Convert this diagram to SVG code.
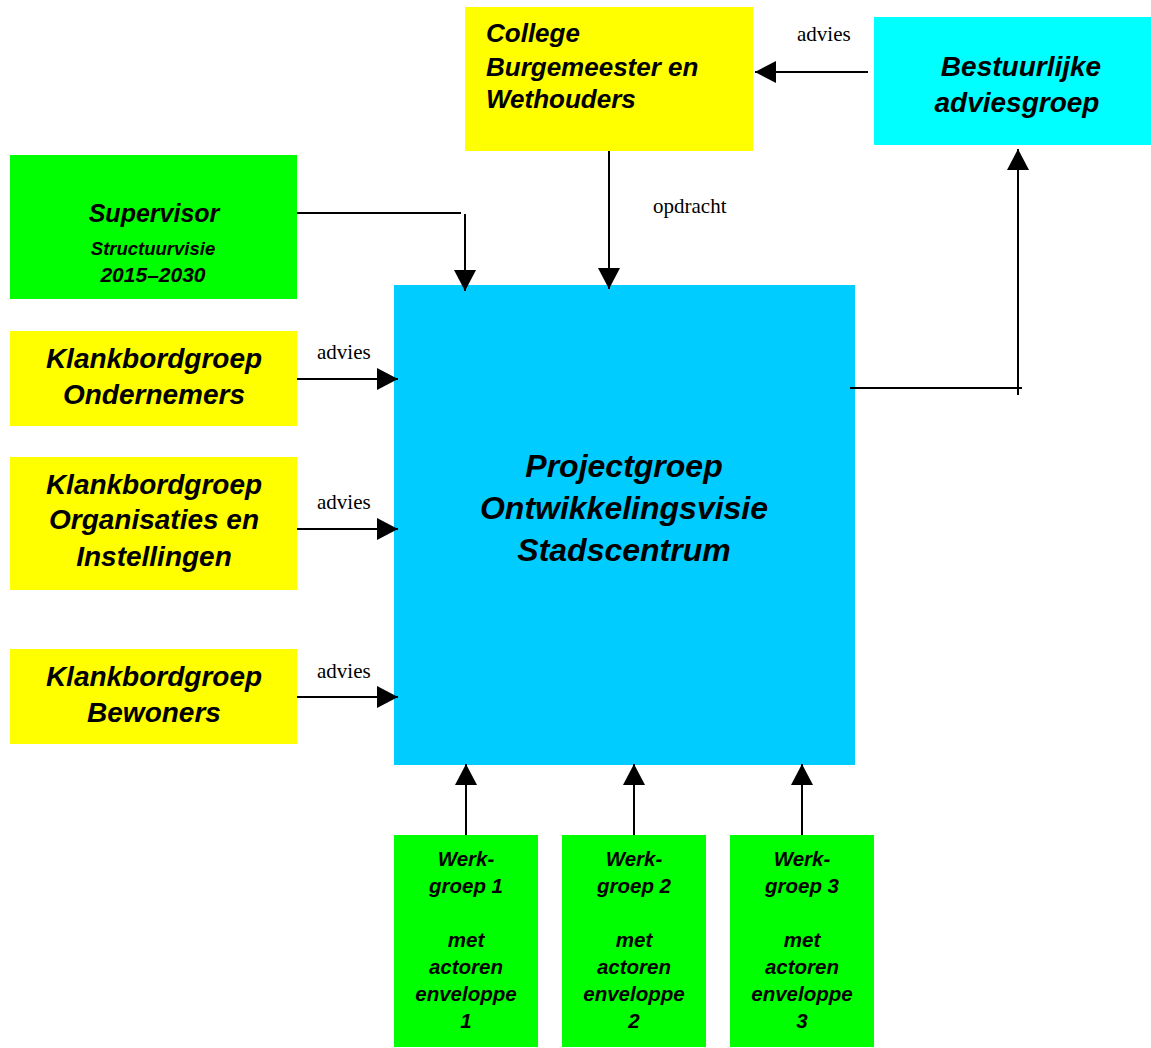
<svg xmlns="http://www.w3.org/2000/svg" width="1151" height="1048" viewBox="0 0 1151 1048">
<defs>
<marker id="ah" markerUnits="userSpaceOnUse" markerWidth="22" markerHeight="22" viewBox="0 0 22 22" refX="21" refY="11" orient="auto">
<path d="M0,0 L21,11 L0,22 Z" fill="#000"/>
</marker>
<style>
.t{font-family:"Liberation Sans",Arial,sans-serif;font-weight:bold;font-style:italic;fill:#000;text-anchor:middle}
.l{font-family:"Liberation Serif","Times New Roman",serif;font-size:21px;fill:#000}
.c{stroke:#000;stroke-width:2;fill:none}
.y{fill:#ffff00}.g{fill:#00ff00}.b{fill:#00ccff}.a{fill:#00ffff}
</style>
</defs>
<rect width="1151" height="1048" fill="#fff"/>
<g id="college">
<rect class="y" x="465" y="7" width="288" height="144"/>
<text class="t" style="text-anchor:start" font-size="26"><tspan x="486" y="42">College</tspan><tspan x="486" y="76">Burgemeester en</tspan><tspan x="486" y="108">Wethouders</tspan></text>
</g>
<g id="bestuurlijke">
<rect class="a" x="874" y="17" width="277" height="128"/>
<text class="t" font-size="28"><tspan x="1021" y="76">Bestuurlijke</tspan><tspan x="1017" y="112">adviesgroep</tspan></text>
</g>
<g id="supervisor">
<rect class="g" x="10" y="155" width="287" height="144"/>
<text class="t" font-size="25" x="154" y="222">Supervisor</text>
<text class="t" font-size="18.5" x="153" y="255">Structuurvisie</text>
<text class="t" font-size="21" x="153" y="282">2015–2030</text>
</g>
<g id="projectgroep">
<rect class="b" x="394" y="285" width="461" height="480"/>
<text class="t" font-size="32"><tspan x="624" y="477">Projectgroep</tspan><tspan x="624" y="519">Ontwikkelingsvisie</tspan><tspan x="624" y="561">Stadscentrum</tspan></text>
</g>
<g id="kb-ondernemers">
<rect class="y" x="10" y="331" width="287" height="95"/>
<text class="t" font-size="28"><tspan x="154" y="368">Klankbordgroep</tspan><tspan x="154" y="404">Ondernemers</tspan></text>
</g>
<g id="kb-organisaties">
<rect class="y" x="10" y="457" width="287" height="133"/>
<text class="t" font-size="28"><tspan x="154" y="494">Klankbordgroep</tspan><tspan x="154" y="529">Organisaties en</tspan><tspan x="154" y="566">Instellingen</tspan></text>
</g>
<g id="kb-bewoners">
<rect class="y" x="10" y="649" width="287" height="95"/>
<text class="t" font-size="28"><tspan x="154" y="686">Klankbordgroep</tspan><tspan x="154" y="722">Bewoners</tspan></text>
</g>
<g id="werkgroep1">
<rect class="g" x="394" y="835" width="144" height="212"/>
<text class="t" font-size="20.5"><tspan x="466" y="866">Werk-</tspan><tspan x="466" y="893">groep 1</tspan><tspan x="466" y="947">met</tspan><tspan x="466" y="974">actoren</tspan><tspan x="466" y="1001">enveloppe</tspan><tspan x="466" y="1028">1</tspan></text>
</g>
<g id="werkgroep2">
<rect class="g" x="562" y="835" width="144" height="212"/>
<text class="t" font-size="20.5"><tspan x="634" y="866">Werk-</tspan><tspan x="634" y="893">groep 2</tspan><tspan x="634" y="947">met</tspan><tspan x="634" y="974">actoren</tspan><tspan x="634" y="1001">enveloppe</tspan><tspan x="634" y="1028">2</tspan></text>
</g>
<g id="werkgroep3">
<rect class="g" x="730" y="835" width="144" height="212"/>
<text class="t" font-size="20.5"><tspan x="802" y="866">Werk-</tspan><tspan x="802" y="893">groep 3</tspan><tspan x="802" y="947">met</tspan><tspan x="802" y="974">actoren</tspan><tspan x="802" y="1001">enveloppe</tspan><tspan x="802" y="1028">3</tspan></text>
</g>
<g id="connectors">
<line class="c" x1="868" y1="72" x2="755" y2="72" marker-end="url(#ah)"/>
<text class="l" x="797" y="41">advies</text>
<line class="c" x1="609" y1="151" x2="609" y2="289" marker-end="url(#ah)"/>
<text class="l" x="653" y="213">opdracht</text>
<line class="c" x1="297" y1="213" x2="461" y2="213"/>
<line class="c" x1="465" y1="214" x2="465" y2="291" marker-end="url(#ah)"/>
<line class="c" x1="297" y1="379" x2="398" y2="379" marker-end="url(#ah)"/>
<text class="l" x="317" y="359">advies</text>
<line class="c" x1="297" y1="529" x2="398" y2="529" marker-end="url(#ah)"/>
<text class="l" x="317" y="509">advies</text>
<line class="c" x1="297" y1="697" x2="398" y2="697" marker-end="url(#ah)"/>
<text class="l" x="317" y="678">advies</text>
<line class="c" x1="466" y1="835" x2="466" y2="764" marker-end="url(#ah)"/>
<line class="c" x1="634" y1="835" x2="634" y2="764" marker-end="url(#ah)"/>
<line class="c" x1="802" y1="835" x2="802" y2="764" marker-end="url(#ah)"/>
<line class="c" x1="850" y1="388" x2="1022" y2="388"/>
<line class="c" x1="1018" y1="395" x2="1018" y2="149" marker-end="url(#ah)"/>
</g>
</svg>
